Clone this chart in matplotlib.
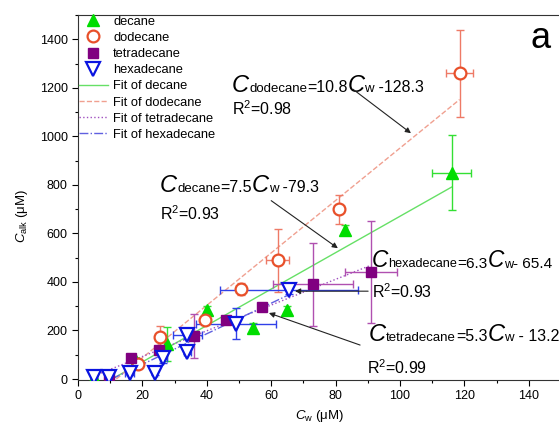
import numpy as np
import matplotlib
matplotlib.use("Agg")
import matplotlib.pyplot as plt
from matplotlib.ticker import MultipleLocator

plt.rcParams['font.family'] = ['Liberation Sans', 'DejaVu Sans']
plt.rcParams['mathtext.fontset'] = 'custom'
plt.rcParams['mathtext.rm'] = 'Liberation Sans'
plt.rcParams['mathtext.it'] = 'Liberation Sans:italic'

# data (C_w in uM, C_alk in uM)
decane_x = [5, 18, 27.5, 40, 54.5, 65, 83, 116]
decane_y = [5, 75, 145, 285, 212, 285, 615, 850]
decane_xerr = [0.5, 0.5, 0.5, 0.5, 0.5, 0.5, 0.5, 6]
decane_yerr = [8, 10, 70, 15, 20, 15, 20, 155]

dodecane_x = [18.5, 25.5, 39.5, 50.5, 62, 81, 118.5]
dodecane_y = [60, 175, 245, 370, 490, 700, 1260]
dodecane_xerr = [1, 1, 1, 1.5, 3.5, 1.5, 4.3]
dodecane_yerr = [15, 45, 15, 25, 130, 60, 180]

tetradecane_x = [9.5, 16.5, 25, 36, 46, 57, 73, 91]
tetradecane_y = [18, 85, 120, 178, 245, 298, 390, 440]
tetradecane_xerr = [0.5, 0.5, 0.5, 1, 0.5, 1, 12.5, 8]
tetradecane_yerr = [5, 5, 5, 90, 10, 10, 170, 210]

hexadecane_x = [5, 9.5, 16, 24, 26.5, 34, 34, 49, 65.5]
hexadecane_y = [8, 8, 25, 25, 85, 112, 180, 228, 366]
hexadecane_xerr = [1, 1, 1.5, 0.5, 1, 1, 4.5, 12.5, 21.5]
hexadecane_yerr = [5, 5, 10, 10, 20, 10, 15, 63, 15]

# linear fits as given on the chart: slope, intercept, x range
fit_decane = (7.5, -79.3, 10.6, 116)
fit_dodecane = (10.8, -128.3, 11.9, 118.5)
fit_tetradecane = (5.3, -13.2, 5, 91)
fit_hexadecane = (6.3, -65.4, 10.4, 66)

c_dec = '#00dd00'
c_dod = '#e8502a'
c_tet = '#800080'
c_hex = '#0a14e0'

fig = plt.figure(figsize=(5.59, 4.30), dpi=100)
ax = fig.add_axes([78/559, 50/430, 483/559, 365/430])

def fitline(f):
    a, b, x0, x1 = f
    xs = np.array([x0, x1])
    return xs, a*xs + b

xs, ys = fitline(fit_decane)
ax.plot(xs, ys, '-', color='#66e066', lw=1, label='Fit of decane', zorder=1)
xs, ys = fitline(fit_dodecane)
ax.plot(xs, ys, '--', color='#f0a090', lw=1, label='Fit of dodecane', zorder=1)
xs, ys = fitline(fit_tetradecane)
ax.plot(xs, ys, ':', color='#a050c0', lw=1, label='Fit of tetradecane', zorder=1)
xs, ys = fitline(fit_hexadecane)
ax.plot(xs, ys, '-.', color='#6060e0', lw=1, label='Fit of hexadecane', zorder=1)

ax.errorbar(decane_x, decane_y, xerr=decane_xerr, yerr=decane_yerr, fmt='none',
            ecolor='#33e033', elinewidth=1, capsize=3, zorder=2)
ax.errorbar(dodecane_x, dodecane_y, xerr=dodecane_xerr, yerr=dodecane_yerr, fmt='none',
            ecolor='#ee7a66', elinewidth=1, capsize=3, zorder=2)
ax.errorbar(tetradecane_x, tetradecane_y, xerr=tetradecane_xerr, yerr=tetradecane_yerr, fmt='none',
            ecolor='#b050b0', elinewidth=1, capsize=3, zorder=2)
ax.errorbar(hexadecane_x, hexadecane_y, xerr=hexadecane_xerr, yerr=hexadecane_yerr, fmt='none',
            ecolor='#3040e8', elinewidth=1, capsize=3, zorder=2)

ax.plot(decane_x, decane_y, '^', color=c_dec, ms=9, ls='none', label='decane', zorder=3)
ax.plot(dodecane_x, dodecane_y, 'o', mfc='white', mec=c_dod, mew=1.6, ms=8.5, ls='none',
        label='dodecane', zorder=3)
ax.plot(tetradecane_x, tetradecane_y, 's', color=c_tet, ms=7, ls='none', label='tetradecane', zorder=3)
ax.plot(hexadecane_x, hexadecane_y, 'v', mfc='white', mec=c_hex, mew=1.6, ms=9.5, ls='none',
        label='hexadecane', zorder=3)

ax.set_xlim(0, 150)
ax.set_ylim(-4, 1500)
ax.xaxis.set_major_locator(MultipleLocator(20))
ax.xaxis.set_minor_locator(MultipleLocator(10))
ax.yaxis.set_major_locator(MultipleLocator(200))
ax.yaxis.set_minor_locator(MultipleLocator(100))
ax.tick_params(which='major', direction='out', length=4, width=0.8, labelsize=9)
ax.tick_params(which='minor', direction='out', length=2.5, width=0.8)
for s in ax.spines.values():
    s.set_color('#333333')

ax.set_xlabel(r'$C_{\rm w}$ ($\mathrm{\mu}$M)', fontsize=9.5, labelpad=4)
ax.set_ylabel(r'$C_{\rm alk}$ ($\mathrm{\mu}$M)', fontsize=9.5)
ax.yaxis.set_label_coords(-0.10, 0.45)

h, l = ax.get_legend_handles_labels()
order = [4, 5, 6, 7, 0, 1, 2, 3]
ax.legend([h[i] for i in order], [l[i] for i in order], loc='upper left',
          bbox_to_anchor=(0.002, 0.998), frameon=False, fontsize=9.3, numpoints=1,
          handlelength=2.25, handletextpad=0.4, labelspacing=0.32, borderpad=0,
          borderaxespad=0)

# rich text helper: pieces chained along a common baseline (figure pixels, y from top)
DESC = 0.21
def rich(px, py, pieces):
    prev = None
    prev_size = None
    for txt, size, style in pieces:
        if prev is None:
            prev = ax.annotate(txt, xy=(px, 430 - py), xycoords='figure pixels',
                               va='baseline', ha='left', fontsize=size, fontstyle=style)
        else:
            prev = ax.annotate(txt, xy=(1, 0), xycoords=prev,
                               xytext=(0, DESC*prev_size), textcoords='offset points',
                               va='baseline', ha='left', fontsize=size, fontstyle=style)
        prev_size = size
    return prev

def equation(px, py, name, slope, rest, k=1.0):
    rich(px, py, [('C', 17*k, 'italic'), (name, 9.5*k, 'normal'), ('=' + slope, 11.5*k, 'normal'),
                  ('C', 17*k, 'italic'), ('w', 9.5*k, 'normal'), (rest, 11.5*k, 'normal')])

equation(232, 92, 'dodecane', '10.8', ' -128.3')
ax.annotate(r'R$^2$=0.98', xy=(232, 430 - 115), xycoords='figure pixels', fontsize=11.5, va='baseline')
equation(160, 192, 'decane', '7.5', ' -79.3')
ax.annotate(r'R$^2$=0.93', xy=(160, 430 - 220), xycoords='figure pixels', fontsize=11.5, va='baseline')
equation(372, 267, 'hexadecane', '6.3', '- 65.4', k=0.96)
ax.annotate(r'R$^2$=0.93', xy=(372, 430 - 298), xycoords='figure pixels', fontsize=11.5, va='baseline')
equation(369, 341, 'tetradecane', '5.3', ' - 13.2')
ax.annotate(r'R$^2$=0.99', xy=(367, 430 - 374), xycoords='figure pixels', fontsize=11.5, va='baseline')

ax.annotate('a', xy=(530, 430 - 48), xycoords='figure pixels', fontsize=26, va='baseline')

arrow = dict(arrowstyle='-|>', color='#222222', lw=0.8, mutation_scale=8, shrinkA=0, shrinkB=0)
ax.annotate('', xy=(103.4, 1013), xytext=(85.4, 1194), arrowprops=arrow)
ax.annotate('', xy=(80.7, 539), xytext=(60, 735), arrowprops=arrow)
ax.annotate('', xy=(67.4, 362), xytext=(90.1, 362), arrowprops=arrow)
ax.annotate('', xy=(59.3, 272), xytext=(87.6, 140), arrowprops=arrow)

fig.savefig('out.png', dpi=100)
